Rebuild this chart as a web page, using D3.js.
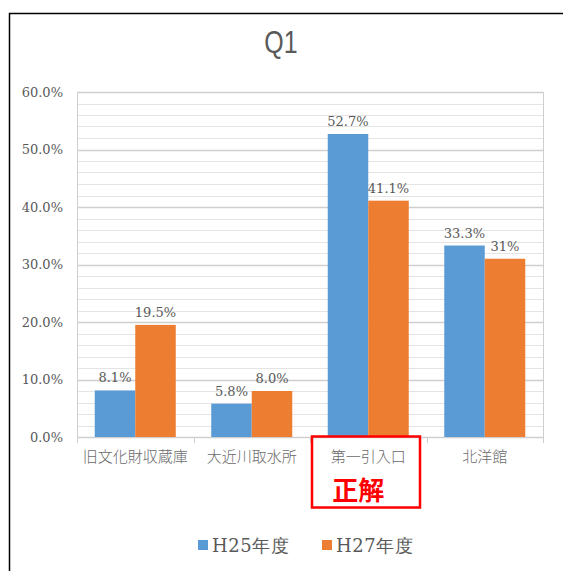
<!DOCTYPE html>
<html><head><meta charset="utf-8">
<script src="https://cdn.jsdelivr.net/npm/d3@7"></script>
<style>body{margin:0;background:#fff}svg{display:block}</style>
</head><body>
<script>
const categories = ["旧文化財収蔵庫","大近川取水所","第一引入口","北洋館"];
const seriesNames = ["H25年度","H27年度"];
const h25 = [8.1, 5.8, 52.7, 33.3];
const h27 = [19.5, 8.0, 41.1, 31];
const h25Labels = ["8.1%","5.8%","52.7%","33.3%"];
const h27Labels = ["19.5%","8.0%","41.1%","31%"];
const yTicks = [0,10,20,30,40,50,60];
const colors = ["#5B9BD5","#ED7D31"];
const correctIndex = 2;

const W = 563, H = 571;
const svg = d3.select("body").append("svg").attr("width",W).attr("height",H);
svg.append("rect").attr("x",9.5).attr("y",13.5).attr("width",600).attr("height",600)
  .attr("fill","#fff").attr("stroke","#000").attr("stroke-width",1.5);

const L=77, R=543, T=92, B=437;
const y = d3.scaleLinear().domain([0,60]).range([B,T]);
const x = d3.scaleBand().domain(categories).range([L,R]).padding(0);
const inner = d3.scaleBand().domain(seriesNames).range([0,x.bandwidth()]).paddingInner(0).paddingOuter(0.438);

// minor gridlines
const minor = d3.range(2,60,2).filter(v=>v%10!==0);
svg.append("g").selectAll("line").data(minor).join("line")
  .attr("x1",L).attr("x2",R).attr("y1",d=>Math.round(y(d))+0.5).attr("y2",d=>Math.round(y(d))+0.5)
  .attr("stroke","#e4e4e4").attr("stroke-width",1);
// major gridlines
svg.append("g").selectAll("line").data(yTicks).join("line")
  .attr("x1",L).attr("x2",R).attr("y1",d=>Math.round(y(d))+0.5).attr("y2",d=>Math.round(y(d))+0.5)
  .attr("stroke","#cfcfcf").attr("stroke-width",1.3);
// plot border sides
svg.append("line").attr("x1",L+0.5).attr("x2",L+0.5).attr("y1",T).attr("y2",B+6).attr("stroke","#cfcfcf");
svg.append("line").attr("x1",R+0.5).attr("x2",R+0.5).attr("y1",T).attr("y2",B+6).attr("stroke","#cfcfcf");
// category ticks
const bounds = categories.map(c=>x(c)).slice(1);
svg.append("g").selectAll("line").data(bounds).join("line")
  .attr("x1",d=>Math.round(d)+0.5).attr("x2",d=>Math.round(d)+0.5).attr("y1",B).attr("y2",B+6).attr("stroke","#cfcfcf");

// y axis labels
const yAxis = d3.axisLeft(y).tickValues(yTicks).tickSize(0).tickPadding(0).tickFormat(d=>d.toFixed(1)+"%");
const ya = svg.append("g").attr("transform",`translate(63,0)`).call(yAxis);
ya.select(".domain").remove();
ya.selectAll("text").attr("font-family","DejaVu Serif, serif").attr("font-size",13).attr("fill","#595959");

// bars
const series = [h25,h27];
const labels = [h25Labels,h27Labels];
series.forEach((vals,si)=>{
  const g = svg.append("g");
  g.selectAll("rect").data(vals).join("rect")
    .attr("x",(d,i)=>x(categories[i])+inner(seriesNames[si]))
    .attr("y",d=>y(d)).attr("width",inner.bandwidth()).attr("height",d=>B-y(d))
    .attr("fill",colors[si]);
  g.selectAll("text").data(vals).join("text")
    .attr("x",(d,i)=>x(categories[i])+inner(seriesNames[si])+inner.bandwidth()/2)
    .attr("y",d=>y(d)-8)
    .attr("text-anchor","middle").attr("font-family","DejaVu Serif, serif").attr("font-size",13)
    .attr("fill","#595959").text((d,i)=>labels[si][i]);
});

// category labels
svg.append("g").selectAll("text").data(categories).join("text")
  .attr("x",d=>x(d)+x.bandwidth()/2).attr("y",462)
  .attr("text-anchor","middle").attr("font-family","Noto Sans CJK JP, sans-serif").attr("font-size",15)
  .attr("font-weight",300).attr("fill","#6a6a6a").text(d=>d);

// title
svg.append("text").attr("transform","translate(281,53) scale(0.78,1)").attr("text-anchor","middle")
  .attr("font-family","Liberation Sans, sans-serif").attr("font-size",32)
  .attr("fill","#595959").text("Q1");

// correct answer box
const cx = x(categories[correctIndex]);
svg.append("rect").attr("x",312).attr("y",436.5).attr("width",108).attr("height",71)
  .attr("fill","none").attr("stroke","#ff0000").attr("stroke-width",2.5);
svg.append("text").attr("x",cx+x.bandwidth()/2-10).attr("y",500).attr("text-anchor","middle")
  .attr("font-family","Noto Sans CJK JP, sans-serif").attr("font-weight","bold").attr("font-size",26)
  .attr("fill","#ff0000").text("正解");

// legend
const legX = [198, 322];
seriesNames.forEach((n,i)=>{
  svg.append("rect").attr("x",legX[i]).attr("y",540).attr("width",10).attr("height",10).attr("fill",colors[i]);
  svg.append("text").attr("x",legX[i]+14).attr("y",552).attr("font-family","DejaVu Serif, serif")
    .attr("font-size",18).attr("letter-spacing",0.5).attr("fill","#595959").text(n);
});
</script>
</body></html>
